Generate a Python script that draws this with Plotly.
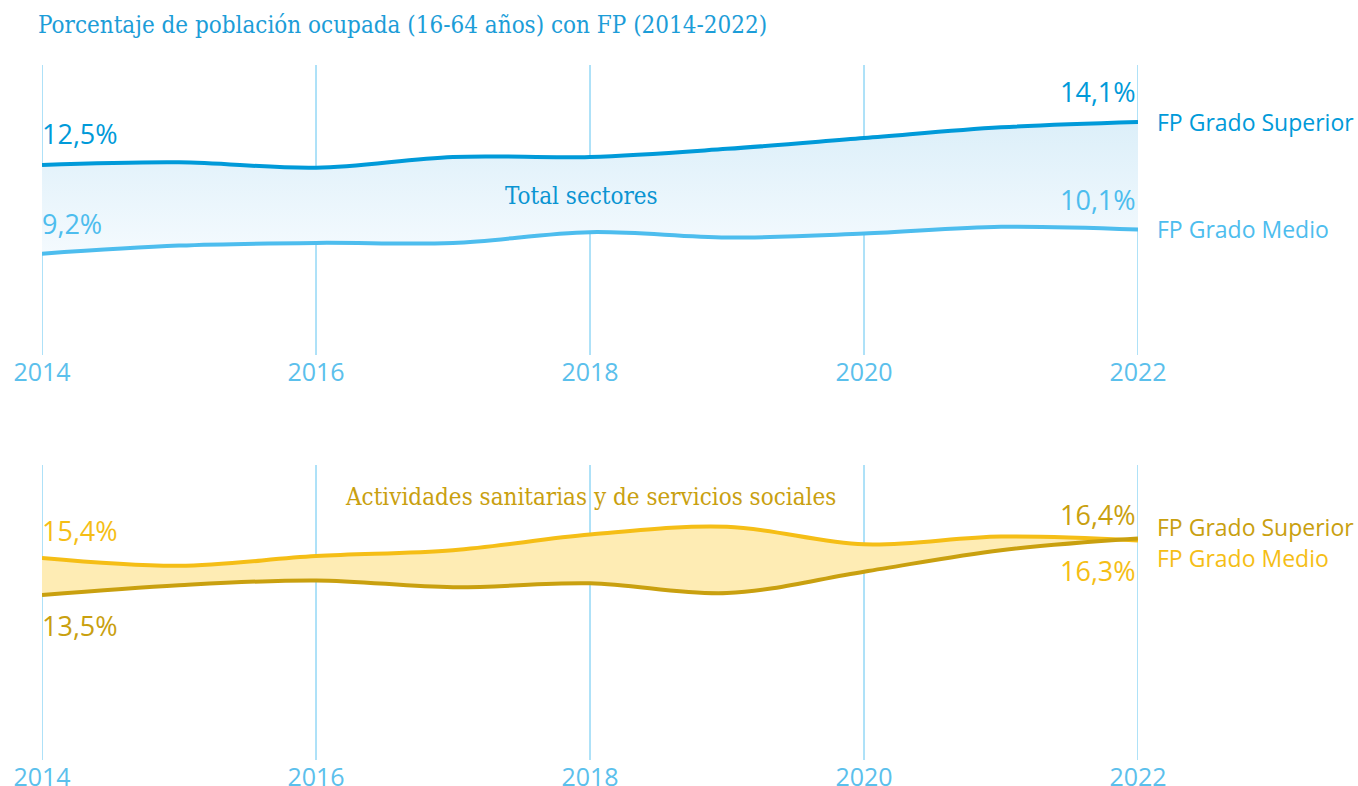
import plotly.graph_objects as go

years = [2014, 2015, 2016, 2017, 2018, 2019, 2020, 2021, 2022]

# Total sectores (%)
total_superior = [12.5, 12.6, 12.4, 12.8, 12.8, 13.1, 13.5, 13.9, 14.1]
total_medio = [9.2, 9.5, 9.6, 9.6, 10.0, 9.8, 9.95, 10.2, 10.1]

# Actividades sanitarias y de servicios sociales (%)
sanit_superior = [13.5, 14.0, 14.25, 13.9, 14.1, 13.6, 14.7, 15.8, 16.4]
sanit_medio = [15.4, 15.0, 15.5, 15.8, 16.6, 17.0, 16.1, 16.5, 16.3]

tick_years = [2014, 2016, 2018, 2020, 2022]

title_text = "Porcentaje de población ocupada (16-64 años) con FP (2014-2022)"
panel1_text = "Total sectores"
panel2_text = "Actividades sanitarias y de servicios sociales"
name_sup = "FP Grado Superior"
name_med = "FP Grado Medio"

BLUE_D = "#009AD9"
BLUE_L = "#4DBDEE"
GRID = "#5FC4F1"
GOLD_D = "#C9A00F"
GOLD_L = "#F5BE16"
SANS = "Open Sans"
SERIF = "DejaVu Serif Condensed, Liberation Serif, serif"

W, H = 1358, 786


def fmt(v):
    return f"{v:.1f}".replace(".", ",") + "%"


fig = go.Figure()

# --- top panel fill
fig.add_trace(go.Scatter(x=years, y=total_medio, mode="lines", line=dict(width=0, shape="spline", smoothing=1),
                         xaxis="x", yaxis="y", hoverinfo="skip", showlegend=False))
fig.add_trace(go.Scatter(x=years, y=total_superior, mode="lines", line=dict(width=0, shape="spline", smoothing=1),
                         fill="tonexty",
                         fillgradient=dict(type="vertical", colorscale=[[0, "#F4FAFE"], [1, "#DCEFF9"]]),
                         xaxis="x", yaxis="y", hoverinfo="skip", showlegend=False))
fig.add_trace(go.Scatter(x=years, y=total_medio, mode="lines", line=dict(width=4, color=BLUE_L, shape="spline", smoothing=1),
                         xaxis="x", yaxis="y", showlegend=False))
fig.add_trace(go.Scatter(x=years, y=total_superior, mode="lines", line=dict(width=4, color=BLUE_D, shape="spline", smoothing=1),
                         xaxis="x", yaxis="y", showlegend=False))

# --- bottom panel fill
fig.add_trace(go.Scatter(x=years, y=sanit_superior, mode="lines", line=dict(width=0, shape="spline", smoothing=1),
                         xaxis="x2", yaxis="y2", hoverinfo="skip", showlegend=False))
fig.add_trace(go.Scatter(x=years, y=sanit_medio, mode="lines", line=dict(width=0, shape="spline", smoothing=1),
                         fill="tonexty", fillcolor="#FEECB4",
                         xaxis="x2", yaxis="y2", hoverinfo="skip", showlegend=False))
fig.add_trace(go.Scatter(x=years, y=sanit_medio, mode="lines", line=dict(width=4, color=GOLD_L, shape="spline", smoothing=1),
                         xaxis="x2", yaxis="y2", showlegend=False))
fig.add_trace(go.Scatter(x=years, y=sanit_superior, mode="lines", line=dict(width=4, color=GOLD_D, shape="spline", smoothing=1),
                         xaxis="x2", yaxis="y2", showlegend=False))

xax = dict(range=[years[0], years[-1]], tickvals=tick_years, ticktext=[str(t) for t in tick_years],
           showgrid=False, zeroline=False, showline=False, automargin=False,
           ticks="", tickfont=dict(family=SANS, size=25, color="#5BC0EC"), fixedrange=True)

PH = H - 40  # plot height with t=b=20


def py(page_y):
    return (H - 20 - page_y) / PH


fig.update_layout(
    template="none",
    width=W, height=H,
    margin=dict(l=42, r=W - 1138, t=20, b=20, autoexpand=False),
    paper_bgcolor="white", plot_bgcolor="white",
    xaxis=dict(xax, anchor="y"),
    xaxis2=dict(xax, anchor="y2"),
    yaxis=dict(domain=[py(355), py(65)], range=[5.43, 16.22], visible=False, fixedrange=True, automargin=False),
    yaxis2=dict(domain=[py(760), py(465)], range=[5.04, 20.17], visible=False, fixedrange=True, automargin=False),
    title=dict(text=title_text, x=38 / W, xanchor="left", y=1 - 25 / H, yanchor="middle",
               font=dict(family=SERIF, size=24, color="#1C9DD8")),
)

# vertical grid lines at the tick years, in both panels
shapes = []
for yr in tick_years:
    for xr, yr_ref in (("x", "y domain"), ("x2", "y2 domain")):
        shapes.append(dict(type="line", xref=xr, yref=yr_ref, x0=yr, x1=yr, y0=0, y1=1,
                           line=dict(color=GRID, width=1), layer="below"))
fig.update_layout(shapes=shapes)

ann = []


def lab(text, x, y, xa, ya, color, size, xanchor, yshift, xshift=0, weight=400):
    ann.append(dict(text=text, x=x, y=y, xref=xa, yref=ya, xanchor=xanchor, yanchor="middle",
                    yshift=yshift, xshift=xshift, showarrow=False,
                    font=dict(family=SANS, size=size, color=color, weight=weight)))


# top panel labels
lab(fmt(total_superior[0]), years[0], total_superior[0], "x", "y", BLUE_D, 27, "left", 31, -2, 500)
lab(fmt(total_medio[0]), years[0], total_medio[0], "x", "y", BLUE_L, 27, "left", 30, -2, 500)
lab(fmt(total_superior[-1]), years[-1], total_superior[-1], "x", "y", BLUE_D, 27, "right", 30, 0, 500)
lab(fmt(total_medio[-1]), years[-1], total_medio[-1], "x", "y", BLUE_L, 27, "right", 30, 0, 500)
lab(name_sup, years[-1], total_superior[-1], "x", "y", BLUE_D, 23, "left", 0, 17)
lab(name_med, years[-1], total_medio[-1], "x", "y", BLUE_L, 23, "left", 0, 17)

# bottom panel labels
lab(fmt(sanit_medio[0]), years[0], sanit_medio[0], "x2", "y2", GOLD_L, 27, "left", 28, -2, 500)
lab(fmt(sanit_superior[0]), years[0], sanit_superior[0], "x2", "y2", GOLD_D, 27, "left", -30, -2, 500)
lab(fmt(sanit_superior[-1]), years[-1], sanit_superior[-1], "x2", "y2", GOLD_D, 27, "right", 24, 0, 500)
lab(fmt(sanit_medio[-1]), years[-1], sanit_medio[-1], "x2", "y2", GOLD_L, 27, "right", -30, 0, 500)
lab(name_sup, years[-1], sanit_superior[-1], "x2", "y2", GOLD_D, 23, "left", 12, 17)
lab(name_med, years[-1], sanit_medio[-1], "x2", "y2", GOLD_L, 23, "left", -18, 17)

ann.append(dict(text=panel1_text, x=(581 - 42) / 1096, y=py(196), xref="paper", yref="paper",
                xanchor="center", yanchor="middle", showarrow=False,
                font=dict(family=SERIF, size=24, color="#0A94D2")))
ann.append(dict(text=panel2_text, x=(590 - 42) / 1096, y=py(497), xref="paper", yref="paper",
                xanchor="center", yanchor="middle", showarrow=False,
                font=dict(family=SERIF, size=24, color=GOLD_D)))

fig.update_layout(annotations=ann)
fig.write_html("out.html", config={"displayModeBar": False},
               post_script="document.body.style.margin='0';document.body.style.overflow='hidden';")
